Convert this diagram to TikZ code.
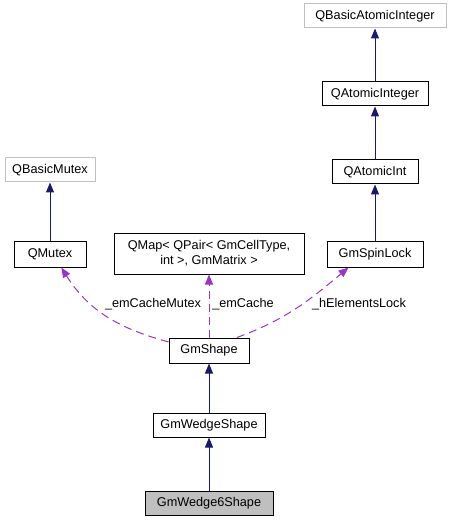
\documentclass[tikz,border=0pt]{standalone}
\usepackage{fontspec}
\setmainfont{Liberation Sans}
\usetikzlibrary{arrows.meta}
\definecolor{edgeblue}{HTML}{191970}
\definecolor{edgepurple}{HTML}{9A32CD}
\definecolor{boxgrey}{HTML}{BFBFBF}
\begin{document}
\begin{tikzpicture}[x=1pt,y=-1pt,
  every node/.style={font=\fontsize{12.7}{15}\selectfont},
  cls/.style={draw=black,line width=1pt,fill=white,minimum height=24pt,inner sep=0pt},
  ext/.style={cls,draw=boxgrey},
  inherit/.style={draw=edgeblue,line width=1pt,-{Triangle[length=10pt,width=8pt]}},
  usage/.style={draw=edgepurple,line width=1pt,dash pattern=on 8pt off 5pt,-{Triangle[length=10pt,width=8pt]}},
  lbl/.style={inner sep=0pt}]
  \useasboundingbox[fill=white] (0,0) rectangle (455,521);

  \node[ext,minimum width=142pt] (qbasicatomicint) at (375,16) {QBasicAtomicInteger};
  \node[cls,minimum width=106pt] (qatomicinteger) at (375,94) {QAtomicInteger};
  \node[cls,minimum width=86pt]  (qatomicint) at (375,172) {QAtomicInt};
  \node[cls,minimum width=96pt,minimum height=26pt] (gmspinlock) at (375,254) {GmSpinLock};
  \node[ext,minimum width=90pt]  (qbasicmutex) at (50,170) {QBasicMutex};
  \node[cls,minimum width=72pt,minimum height=26pt] (qmutex) at (50,254) {QMutex};
  \node[cls,minimum width=190pt,minimum height=41pt,align=center] (qmap) at (209,253.5)
    {QMap< QPair< GmCellType,\\int >, GmMatrix >};
  \node[cls,minimum width=80pt,minimum height=25pt] (gmshape) at (209,350.5) {GmShape};
  \node[cls,minimum width=112pt] (gmwedgeshape) at (209,425) {GmWedgeShape};
  \node[cls,minimum width=128pt,fill=boxgrey] (gmwedge6shape) at (209,503) {GmWedge6Shape};

  \draw[inherit] (qatomicinteger) -- (qbasicatomicint);
  \draw[inherit] (qatomicint) -- (qatomicinteger);
  \draw[inherit] (gmspinlock) -- (qatomicint);
  \draw[inherit] (qmutex) -- (qbasicmutex);
  \draw[inherit] (gmwedgeshape) -- (gmshape);
  \draw[inherit] (gmwedge6shape) -- (gmwedgeshape);

  \draw[usage] (gmshape.168) to[out=165,in=-58] (qmutex.-50);
  \draw[usage] (gmshape.north) -- (qmap.south);
  \draw[usage] (gmshape.25) to[out=20,in=-140] (gmspinlock.-153);

  \node[lbl] (lblmutex) at (153,304) {\_emCacheMutex};
  \node[lbl] (lblcache) at (243,304) {\_emCache};
  \node[lbl] (lbllock) at (359,304) {\_hElementsLock};
\end{tikzpicture}
\end{document}
